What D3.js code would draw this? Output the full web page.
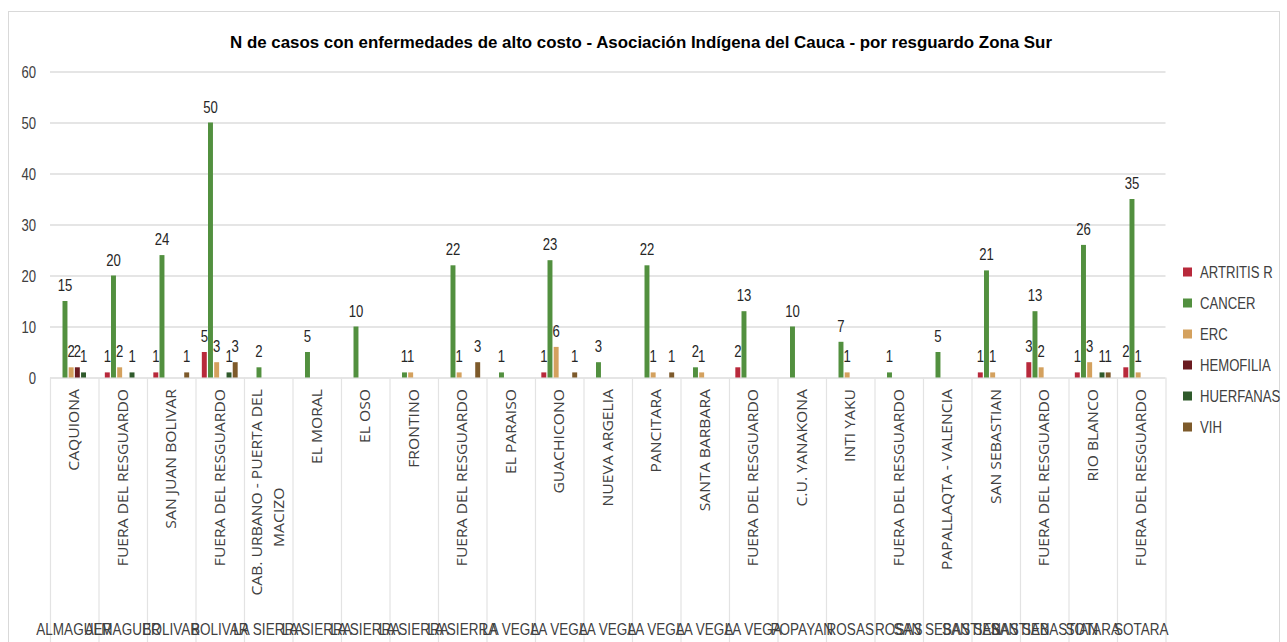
<!DOCTYPE html>
<html>
<head>
    <meta charset="utf-8">
    <style>
        body {
            margin: 0;
            background: white;
        }

        svg {
            display: block;
        }

        text {
            font-family: 'Liberation Sans', Arial, sans-serif;
        }

        .cat-label {
            font-family: 'Open Sans', sans-serif;
        }
    </style>
</head>
<body>
    <svg width="1287" height="642"></svg>
</body>
<script src="https://d3js.org/d3.v7.min.js"></script>
<script>
    // resguardos (inner level) and municipios (outer level)
    let resguardos = ["CAQUIONA", "FUERA DEL RESGUARDO", "SAN JUAN BOLIVAR", "FUERA DEL RESGUARDO",
        "CAB. URBANO - PUERTA  DEL|MACIZO", "EL MORAL", "EL OSO", "FRONTINO", "FUERA DEL RESGUARDO",
        "EL PARAISO", "GUACHICONO", "NUEVA ARGELIA", "PANCITARA", "SANTA BARBARA", "FUERA DEL RESGUARDO",
        "C.U. YANAKONA", "INTI YAKU", "FUERA DEL RESGUARDO", "PAPALLAQTA - VALENCIA", "SAN SEBASTIAN",
        "FUERA DEL RESGUARDO", "RIO BLANCO", "FUERA DEL RESGUARDO"];
    let municipios = ["ALMAGUER", "ALMAGUER", "BOLIVAR", "BOLIVAR", "LA SIERRA", "LA SIERRA", "LA SIERRA",
        "LA SIERRA", "LA SIERRA", "LA VEGA", "LA VEGA", "LA VEGA", "LA VEGA", "LA VEGA", "LA VEGA",
        "POPAYAN", "ROSAS", "ROSAS", "SAN SEBASTIAN", "SAN SEBASTIAN", "SAN SEBASTIAN", "SOTARA", "SOTARA"];

    let series = ["ARTRITIS R", "CANCER", "ERC", "HEMOFILIA", "HUERFANAS", "VIH"];
    let colors = ["#b8293b", "#52903f", "#d4a15e", "#6b1b20", "#2f5a2b", "#7d5a2b"];

    let artritis  = [0, 1, 1, 5, 0, 0, 0, 0, 0, 0, 1, 0, 0, 0, 2, 0, 0, 0, 0, 1, 3, 1, 2];
    let cancer    = [15, 20, 24, 50, 2, 5, 10, 1, 22, 1, 23, 3, 22, 2, 13, 10, 7, 1, 5, 21, 13, 26, 35];
    let erc       = [2, 2, 0, 3, 0, 0, 0, 1, 1, 0, 6, 0, 1, 1, 0, 0, 1, 0, 0, 1, 2, 3, 1];
    let hemofilia = [2, 0, 0, 0, 0, 0, 0, 0, 0, 0, 0, 0, 0, 0, 0, 0, 0, 0, 0, 0, 0, 0, 0];
    let huerfanas = [1, 1, 0, 1, 0, 0, 0, 0, 0, 0, 0, 0, 0, 0, 0, 0, 0, 0, 0, 0, 0, 1, 0];
    let vih       = [0, 0, 1, 3, 0, 0, 0, 0, 3, 0, 1, 0, 1, 0, 0, 0, 0, 0, 0, 0, 0, 1, 0];

    let yTicks = [0, 10, 20, 30, 40, 50, 60];
    let title = "N de casos con enfermedades de alto costo - Asociación Indígena del Cauca - por resguardo Zona Sur";

    let allValues = [artritis, cancer, erc, hemofilia, huerfanas, vih];
    let idx = d3.range(resguardos.length);

    let margin = { top: 71, right: 122, bottom: 265, left: 50 };
    let width = 1287, height = 642;
    let svg = d3.select("svg");
    let squeeze = 0.82; // narrow look, like the original's Calibri

    // chart frame
    svg.append("rect")
        .attr("x", 8.5).attr("y", 11.5)
        .attr("width", 1271).attr("height", 660)
        .attr("fill", "none")
        .attr("stroke", "#d9d9d9");

    let x0 = d3.scaleBand()
        .domain(idx)
        .range([margin.left, 1165.5])
        .paddingInner(0.21)
        .paddingOuter(0.105);
    let x1 = d3.scaleBand()
        .domain(series)
        .range([0, x0.bandwidth()])
        .padding(0.2);
    let y = d3.scaleLinear()
        .domain([0, 60])
        .range([377.5, 71.5]);

    let step = x0.step();
    let catStart = i => margin.left + i * step;

    // gridlines + y labels
    let yAxis = d3.axisLeft(y)
        .tickValues(yTicks)
        .tickSize(-(1165.5 - margin.left))
        .tickPadding(17);
    let gy = svg.append("g")
        .attr("transform", `translate(${margin.left},0)`)
        .call(yAxis);
    gy.select(".domain").remove();
    gy.selectAll(".tick line").attr("stroke", "#dcdcdc").attr("stroke-width", 1.3);
    gy.selectAll(".tick text")
        .attr("fill", "#404040")
        .style("font-size", "16px")
        .attr("dy", "0.36em")
        .attr("transform", `scale(${squeeze},1)`);

    // category dividers below the axis
    svg.append("g")
        .selectAll("line")
        .data(d3.range(resguardos.length + 1))
        .join("line")
        .attr("x1", d => catStart(d) + 0.5)
        .attr("x2", d => catStart(d) + 0.5)
        .attr("y1", 377.5)
        .attr("y2", height)
        .attr("stroke", "#e3e3e3")
        .attr("stroke-width", 1.2);

    // bars
    let groups = svg.append("g")
        .selectAll("g")
        .data(idx)
        .join("g")
        .attr("transform", d => `translate(${x0(d)},0)`);

    let cells = groups.selectAll("g")
        .data(i => series.map((s, k) => ({ s: s, k: k, v: allValues[k][i] })).filter(d => d.v > 0))
        .join("g");

    cells.append("rect")
        .attr("x", d => x1(d.s))
        .attr("width", x1.bandwidth())
        .attr("y", d => y(d.v))
        .attr("height", d => y(0) - y(d.v))
        .attr("fill", d => colors[d.k]);

    cells.append("text")
        .attr("transform", d => `translate(${x1(d.s) + x1.bandwidth() / 2},${y(d.v) - 10}) scale(${squeeze},1)`)
        .attr("text-anchor", "middle")
        .attr("fill", "#262626")
        .style("font-size", "16px")
        .text(d => d.v);

    // inner category labels (rotated)
    let catLabels = svg.append("g")
        .selectAll("g")
        .data(idx)
        .join("g")
        .attr("transform", d => `translate(${x0(d) + x0.bandwidth() / 2},389) rotate(-90)`);

    catLabels.each(function (i) {
        let lines = resguardos[i].split("|");
        let g = d3.select(this);
        let off = (lines.length - 1) * 11;
        let first = g.append("text")
            .attr("class", "cat-label")
            .attr("text-anchor", "end")
            .attr("fill", "#404040")
            .style("font-size", "14px")
            .attr("transform", `translate(0,${-off + 5}) scale(1.12,1)`)
            .text(lines[0]);
        if (lines.length > 1) {
            let len = first.node().getComputedTextLength() * 1.12;
            g.append("text")
                .attr("class", "cat-label")
                .attr("text-anchor", "middle")
                .attr("fill", "#404040")
                .style("font-size", "14px")
                .attr("transform", `translate(${-len / 2 - 25},${off + 5}) scale(1.12,1)`)
                .text(lines[1]);
        }
    });

    // outer category labels (municipios)
    svg.append("g")
        .selectAll("text")
        .data(idx)
        .join("text")
        .attr("transform", d => `translate(${x0(d) + x0.bandwidth() / 2},635) scale(${squeeze},1)`)
        .attr("text-anchor", "middle")
        .attr("fill", "#404040")
        .style("font-size", "16.5px")
        .text(d => municipios[d]);

    // title
    svg.append("text")
        .attr("x", 641)
        .attr("y", 48)
        .attr("text-anchor", "middle")
        .attr("fill", "#000")
        .style("font-size", "17px")
        .style("font-weight", "bold")
        .attr("textLength", 822)
        .attr("lengthAdjust", "spacingAndGlyphs")
        .text(title);

    // legend
    let legend = svg.append("g")
        .selectAll("g")
        .data(series)
        .join("g")
        .attr("transform", (d, k) => `translate(1183,${272 + k * 31})`);
    legend.append("rect")
        .attr("x", 0).attr("y", -4.5)
        .attr("width", 9).attr("height", 9)
        .attr("fill", (d, k) => colors[k]);
    legend.append("text")
        .attr("transform", `translate(17,0) scale(${squeeze},1)`)
        .attr("dy", "0.36em")
        .attr("fill", "#404040")
        .style("font-size", "16px")
        .text(d => d);
</script>
</html>
